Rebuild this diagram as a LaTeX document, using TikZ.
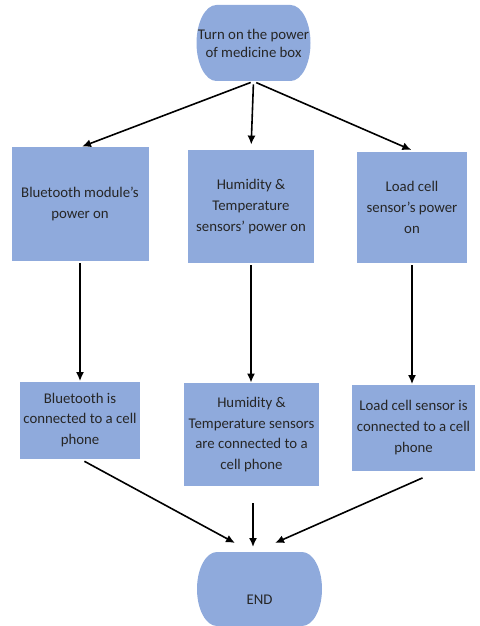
\documentclass[tikz,border=0pt]{standalone}
\usepackage{fontspec}
\setmainfont{Carlito}
\usetikzlibrary{arrows.meta}
\definecolor{boxblue}{RGB}{143,170,220}
\definecolor{boxtext}{RGB}{38,38,38}
\tikzset{>={Latex[length=4.5pt,width=4pt]}}
\tikzset{
  stepbox/.style={rectangle,fill=boxblue,text=boxtext,align=center,
    font=\fontsize{7.4}{10.4}\selectfont,inner sep=0pt},
  % flat top and bottom, bulging sides
  termbox/.style={rectangle,text=boxtext,align=center,
    font=\fontsize{7.4}{9}\selectfont,inner sep=0pt,
    path picture={
      \fill[boxblue] ([xshift=10pt]path picture bounding box.north west)
        -- ([xshift=-10pt]path picture bounding box.north east)
        arc[start angle=90,end angle=-90,x radius=10pt,y radius=#1]
        -- ([xshift=10pt]path picture bounding box.south west)
        arc[start angle=270,end angle=90,x radius=10pt,y radius=#1]
        -- cycle;
    }},
  flow/.style={->,line width=0.8pt}
}

\begin{document}
\begin{tikzpicture}[x=0.5pt,y=-0.5pt]
  \useasboundingbox (0,0) rectangle (480,626);

  % Start and end
  \node[termbox=19pt,minimum width=57pt,minimum height=38pt] (start) at (253.5,43)
    {Turn on the power\\of medicine box};
  \node[termbox=18.5pt,minimum width=62.5pt,minimum height=37pt,
    label={[font=\fontsize{7.4}{9}\selectfont,text=boxtext,yshift=-5.5pt]center:END}]
    (end) at (259.5,589) {};

  % Power on steps
  \node[stepbox,minimum width=68.5pt,minimum height=57pt] (blue1) at (80,204)
    {Bluetooth module's\\power on};
  \node[stepbox,minimum width=63pt,minimum height=56.5pt] (hum1) at (251,206.5)
    {Humidity \&\\Temperature\\sensors' power on};
  \node[stepbox,minimum width=55pt,minimum height=55.5pt] (load1) at (412,207.5)
    {Load cell\\sensor's power\\on};

  % Connection steps
  \node[stepbox,minimum width=60pt,minimum height=38.5pt] (blue2) at (80,420)
    {Bluetooth is\\connected to a cell\\phone};
  \node[stepbox,minimum width=67.5pt,minimum height=51.5pt] (hum2) at (251.5,434.5)
    {Humidity \&\\Temperature sensors\\are connected to a\\cell phone};
  \node[stepbox,minimum width=61.5pt,minimum height=43pt] (load2) at (413.5,427.5)
    {Load cell sensor is\\connected to a cell\\phone};

  % Arrow ends above END
  \coordinate (inL) at (235,543);
  \coordinate (inM) at (253,547);
  \coordinate (inR) at (275,543);

  % Fan out
  \draw[flow,shorten <=1.5pt] (start.south) -- ([xshift=1pt]blue1.north);
  \draw[flow,shorten <=1.5pt,shorten >=2.5pt] (start.south) -- (hum1.north);
  \draw[flow,shorten <=1.5pt,shorten >=2pt] (start.south) -- ([xshift=1.5pt]load1.north);

  % Straight down
  \draw[flow,shorten <=1pt] (blue1.south) -- (blue1.south |- blue2.north);
  \draw[flow,shorten <=1pt] (hum1.south) -- (hum1.south |- hum2.north);
  \draw[flow,shorten <=1pt] (load1.south) -- (load1.south |- load2.north);

  % Into END
  \draw[flow,shorten <=2.5pt] (blue2.south) -- (inL);
  \draw[flow,shorten <=8.5pt] (hum2.south -| inM) -- (inM);
  \draw[flow] ([xshift=4.5pt,yshift=-3.5pt]load2.south) -- (inR);
\end{tikzpicture}
\end{document}
